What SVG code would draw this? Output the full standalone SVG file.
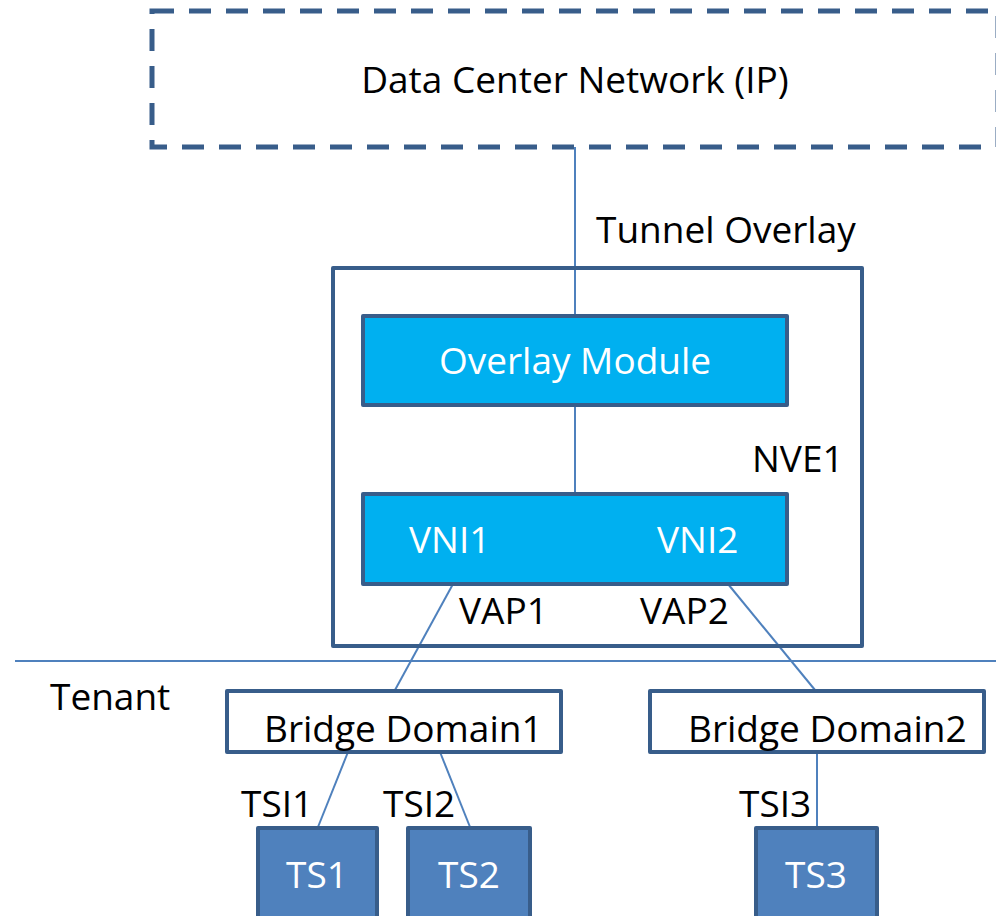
<svg xmlns="http://www.w3.org/2000/svg" width="996" height="916" viewBox="0 0 996 916">
<style>
text{font-family:"Open Sans","Liberation Sans",sans-serif;font-size:37px;fill:#000}
.w{fill:#fff}
.box{stroke:#385D8A;stroke-width:4;stroke-linejoin:round}
.blue{fill:#00B0F0}
.ts{fill:#4F81BD}
.ln{stroke:#4F81BD;stroke-width:2;fill:none}
</style>
<rect width="996" height="916" fill="#fff"/>
<g id="connectors">
<line class="ln" x1="575" y1="147" x2="575" y2="316"/>
<line class="ln" x1="575" y1="405" x2="575" y2="494"/>
<line class="ln" x1="453" y1="584" x2="395" y2="690"/>
<line class="ln" x1="728" y1="584" x2="815" y2="690"/>
<line class="ln" x1="15" y1="661" x2="996" y2="661"/>
<line class="ln" x1="348" y1="752" x2="318" y2="827"/>
<line class="ln" x1="440" y1="752" x2="470" y2="827"/>
<line class="ln" x1="817" y1="752" x2="817" y2="827"/>
</g>
<g id="dcn">
<rect x="152" y="11" width="846" height="136" fill="none" stroke="#385D8A" stroke-width="5" stroke-dasharray="22 15"/>
<text x="575" y="93" text-anchor="middle">Data Center Network (IP)</text>
</g>
<g id="tunnel-label"><text x="596" y="243">Tunnel Overlay</text></g>
<g id="nve1">
<rect class="box" x="333" y="268" width="529" height="378" fill="none"/>
<text x="752" y="472">NVE1</text>
</g>
<g id="overlay-module">
<rect class="box blue" x="363" y="316" width="424" height="89"/>
<text class="w" x="575" y="374" text-anchor="middle">Overlay Module</text>
</g>
<g id="vni">
<rect class="box blue" x="363" y="494" width="424" height="90"/>
<text class="w" x="409" y="553">VNI1</text>
<text class="w" x="657" y="553">VNI2</text>
</g>
<g id="vap-labels">
<text x="459" y="624">VAP1</text>
<text x="640" y="624">VAP2</text>
</g>
<g id="tenant"><text x="50" y="710">Tenant</text></g>
<g id="bd1">
<rect class="box" x="227" y="691" width="334" height="61" fill="#fff"/>
<text x="264" y="742">Bridge Domain1</text>
</g>
<g id="bd2">
<rect class="box" x="650" y="691" width="334" height="61" fill="#fff"/>
<text x="688" y="742">Bridge Domain2</text>
</g>
<g id="tsi-labels">
<text x="241" y="817">TSI1</text>
<text x="383" y="817">TSI2</text>
<text x="739" y="817">TSI3</text>
</g>
<g id="ts1">
<rect class="box ts" x="258" y="828" width="119" height="100"/>
<text class="w" x="317" y="888" text-anchor="middle">TS1</text>
</g>
<g id="ts2">
<rect class="box ts" x="408" y="828" width="122" height="100"/>
<text class="w" x="469" y="888" text-anchor="middle">TS2</text>
</g>
<g id="ts3">
<rect class="box ts" x="756" y="828" width="121" height="100"/>
<text class="w" x="816" y="888" text-anchor="middle">TS3</text>
</g>
</svg>
